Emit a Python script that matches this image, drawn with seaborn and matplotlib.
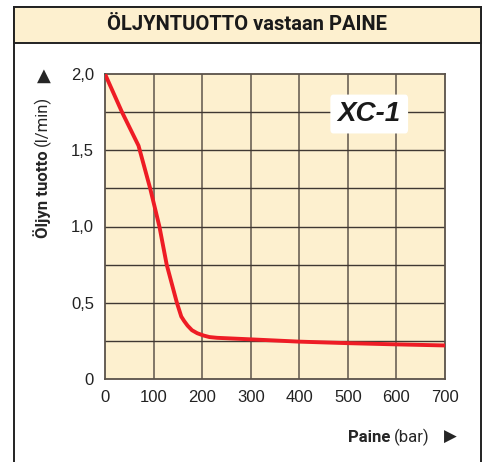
import numpy as np
import pandas as pd
import seaborn as sns
import matplotlib.pyplot as plt
from matplotlib.patches import Rectangle, FancyBboxPatch

# values
pressure = [0, 35, 69, 93, 112, 127, 148, 157, 163, 170, 179, 190, 203, 215, 231, 300, 400, 500, 600, 700]
flow = [2.0, 1.75, 1.53, 1.25, 1.0, 0.75, 0.5, 0.41, 0.38, 0.35, 0.32, 0.30, 0.285, 0.275, 0.27, 0.26, 0.245, 0.235, 0.227, 0.22]
x_ticks = [0, 100, 200, 300, 400, 500, 600, 700]
y_ticks = [0, 0.5, 1.0, 1.5, 2.0]
y_tick_labels = ["0", "0,5", "1,0", "1,5", "2,0"]
title = "ÖLJYNTUOTTO vastaan PAINE"
model = "XC-1"

df = pd.DataFrame({"Paine": pressure, "Tuotto": flow})

sns.set_style("white")
plt.rcParams['font.family'] = ['Liberation Sans', 'DejaVu Sans']

beige = "#fdf0cf"
grid_col = "#3f3832"
red = "#ee1c25"
narrow = ['Roboto', 'Liberation Sans', 'DejaVu Sans']

W, H = 486, 462
fig = plt.figure(figsize=(W / 100, H / 100), dpi=100)
fig.patch.set_facecolor("white")


def px(x, y):
    return x / W, 1 - y / H


# outer frame and header band
x0, y0 = px(14, 7)
x1, y1 = px(481, 43)
fig.add_artist(Rectangle((x0, -0.05), x1 - x0, y0 + 0.05, transform=fig.transFigure,
                         facecolor="none", edgecolor="#222222", lw=1.4))
fig.add_artist(Rectangle((x0, y1), x1 - x0, y0 - y1, transform=fig.transFigure,
                         facecolor=beige, edgecolor="#222222", lw=1.4))
tx, ty = px(247, 25)
fig.text(tx, ty, title, ha="center", va="center", fontsize=14.5, fontweight="bold",
         family=narrow, color="#1a1a1a")

# plot area
left, bottom = 105 / W, 1 - 379 / H
ax = fig.add_axes([left, bottom, 340 / W, (379 - 74) / H])
ax.set_facecolor(beige)

for xv in range(100, 700, 100):
    ax.axvline(xv, color="#5e554c", lw=1.1, zorder=1)
for yv in np.arange(0.25, 2.0, 0.25):
    ax.axhline(yv, color=grid_col, lw=1.0, zorder=1)

sns.lineplot(data=df, x="Paine", y="Tuotto", ax=ax, color=red, lw=2.8, zorder=3)

ax.set_xlim(0, 700)
ax.set_ylim(0, 2.0)
ax.set_xticks(x_ticks)
ax.set_xticklabels([str(v) for v in x_ticks])
ax.set_yticks(y_ticks)
ax.set_yticklabels(y_tick_labels)
ax.tick_params(axis="both", labelsize=12, length=3, width=1, color="#555555",
               labelcolor="#222222", direction="out")
ax.tick_params(axis="y", pad=5)
ax.tick_params(axis="x", pad=5)
ax.set_xlabel("")
ax.set_ylabel("")
for s in ax.spines.values():
    s.set_color("#5a524a")
    s.set_linewidth(1.3)

# model badge
ax.add_patch(FancyBboxPatch((464, 1.61), 160, 0.255, boxstyle="round,pad=0,rounding_size=6",
                            facecolor="white", edgecolor="none", zorder=4,
                            mutation_aspect=0.0045))
ax.text(544, 1.735, model, ha="center", va="center", fontsize=20, fontweight="bold",
        fontstyle="italic", color="#1a1a1a", zorder=5)

# axis titles
lx, _ = px(42, 0)
fig.text(lx, 1 - 238 / H, "Öljyn tuotto", rotation=90, ha="center", va="bottom",
         fontsize=12, fontweight="bold", family=narrow)
fig.text(lx, 1 - 146 / H, "(l/min)", rotation=90, ha="center", va="bottom",
         fontsize=12, family=narrow)
ax_x, ax_y = px(44, 76)
fig.text(ax_x, ax_y, "▲", ha="center", va="center", fontsize=13, family=['DejaVu Sans'])

bx, by = px(390, 437)
fig.text(bx, by, "Paine", ha="right", va="center", fontsize=12, fontweight="bold",
         family=narrow)
fig.text(bx + 4 / W, by, "(bar)", ha="left", va="center", fontsize=12, family=narrow)
ax_x, ax_y = px(450, 437)
fig.text(ax_x, ax_y, "▶", ha="center", va="center", fontsize=12, family=['DejaVu Sans'])

fig.savefig("out.png", dpi=100)
